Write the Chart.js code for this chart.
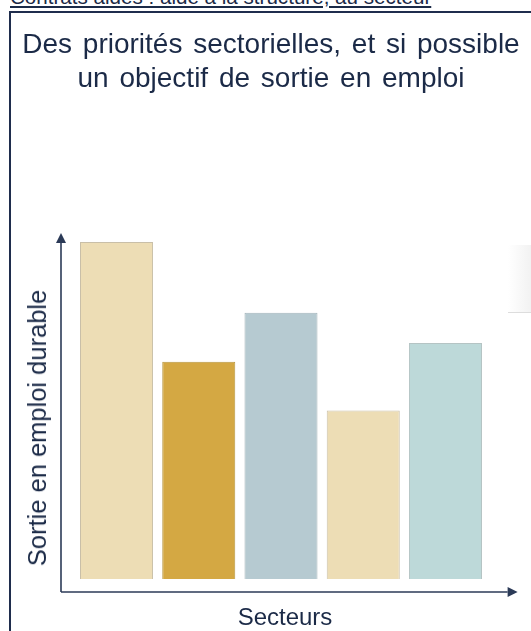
<!DOCTYPE html>
<html lang="fr">
<head>
<meta charset="utf-8">
<script src="https://cdn.jsdelivr.net/npm/chart.js@4/dist/chart.umd.min.js"></script>
<style>
  html, body { margin: 0; padding: 0; background: #ffffff; }
  body { width: 531px; height: 631px; position: relative; overflow: hidden; font-family: "Liberation Sans", Arial, sans-serif; color: #1B2A47; }
  #header { position: absolute; left: 10px; top: -13px; font-size: 20.6px; line-height: 20px; text-decoration: underline; white-space: nowrap; color: #1B2A47; }
  #frame { position: absolute; left: 9px; top: 11px; width: 620px; height: 700px; border: 2px solid #1F2D4D; box-sizing: border-box; }
  #title { position: absolute; left: 11px; width: 520px; top: 27px; font-size: 28px; line-height: 34px; text-align: center; word-spacing: 3px; white-space: nowrap; }
  #ylabel { position: absolute; left: 37px; top: 428px; font-size: 25.5px; line-height: 28px; white-space: nowrap; transform: translate(-50%, -50%) rotate(-90deg); }
  #xlabel { position: absolute; left: 285px; top: 617px; font-size: 24px; line-height: 28px; white-space: nowrap; transform: translate(-50%, -50%); }
  #side { position: absolute; left: 508px; top: 245px; width: 30px; height: 67px; background: linear-gradient(to right, #ffffff, #eeeeee); border-bottom: 1px solid #dddddd; }
  #chart { position: absolute; left: 0; top: 0; }
</style>
</head>
<body>
<div id="header">Contrats aidés : aide à la structure, au secteur</div>
<div id="frame"></div>
<div id="side"></div>
<canvas id="chart" width="531" height="631"></canvas>
<div id="title">Des priorités sectorielles, et si possible<br>un objectif de sortie en emploi</div>
<div id="ylabel">Sortie en emploi durable</div>
<div id="xlabel">Secteurs</div>
<script>
// Data (relative heights, tallest bar = 100)
const categories = ['Secteur 1', 'Secteur 2', 'Secteur 3', 'Secteur 4', 'Secteur 5'];
const values = [100, 64.5, 79, 50, 70];
const barColors = ['#EDDDB5', '#D4A843', '#B6CAD1', '#EDDDB5', '#BDD9D9'];
const barBorders = ['#C9BFA8', '#B8973F', '#A3B4BA', '#C9BFA8', '#B5C4C4'];

const arrowAxes = {
  id: 'arrowAxes',
  afterDraw(chart, args, opts) {
    const ctx = chart.ctx;
    const a = chart.chartArea;
    const ox = a.left + opts.dx;      // y-axis line position
    const oy = a.bottom + opts.dy;    // x-axis line position
    const topY = a.top - opts.overTop;
    const rightX = a.right + opts.overRight;
    const hl = opts.headLen, hw = opts.headHalf;
    ctx.save();
    ctx.strokeStyle = opts.color;
    ctx.fillStyle = opts.color;
    ctx.lineWidth = 1.6;
    // y axis
    ctx.beginPath();
    ctx.moveTo(ox, oy);
    ctx.lineTo(ox, topY + hl);
    ctx.stroke();
    ctx.beginPath();
    ctx.moveTo(ox, topY);
    ctx.lineTo(ox - hw, topY + hl);
    ctx.lineTo(ox + hw, topY + hl);
    ctx.closePath();
    ctx.fill();
    // x axis
    ctx.beginPath();
    ctx.moveTo(ox, oy);
    ctx.lineTo(rightX - hl, oy);
    ctx.stroke();
    ctx.beginPath();
    ctx.moveTo(rightX, oy);
    ctx.lineTo(rightX - hl, oy - hw);
    ctx.lineTo(rightX - hl, oy + hw);
    ctx.closePath();
    ctx.fill();
    ctx.restore();
  }
};

new Chart(document.getElementById('chart'), {
  type: 'bar',
  data: {
    labels: categories,
    datasets: [{
      data: values,
      backgroundColor: barColors,
      borderColor: barBorders,
      borderWidth: 1,
      barPercentage: 0.888,
      categoryPercentage: 1.0
    }]
  },
  options: {
    responsive: false,
    devicePixelRatio: 1,
    animation: false,
    layout: { padding: { left: 75.4, right: 44.4, top: 242, bottom: 52 } },
    plugins: {
      legend: { display: false },
      tooltip: { enabled: false },
      title: { display: false },
      arrowAxes: { color: '#2B3A57', dx: -14.4, dy: 13, overTop: 9, overRight: 31, headLen: 10, headHalf: 5 }
    },
    scales: {
      x: { display: false },
      y: { display: false, min: 0, max: 100 }
    }
  },
  plugins: [arrowAxes]
});
</script>
</body>
</html>
